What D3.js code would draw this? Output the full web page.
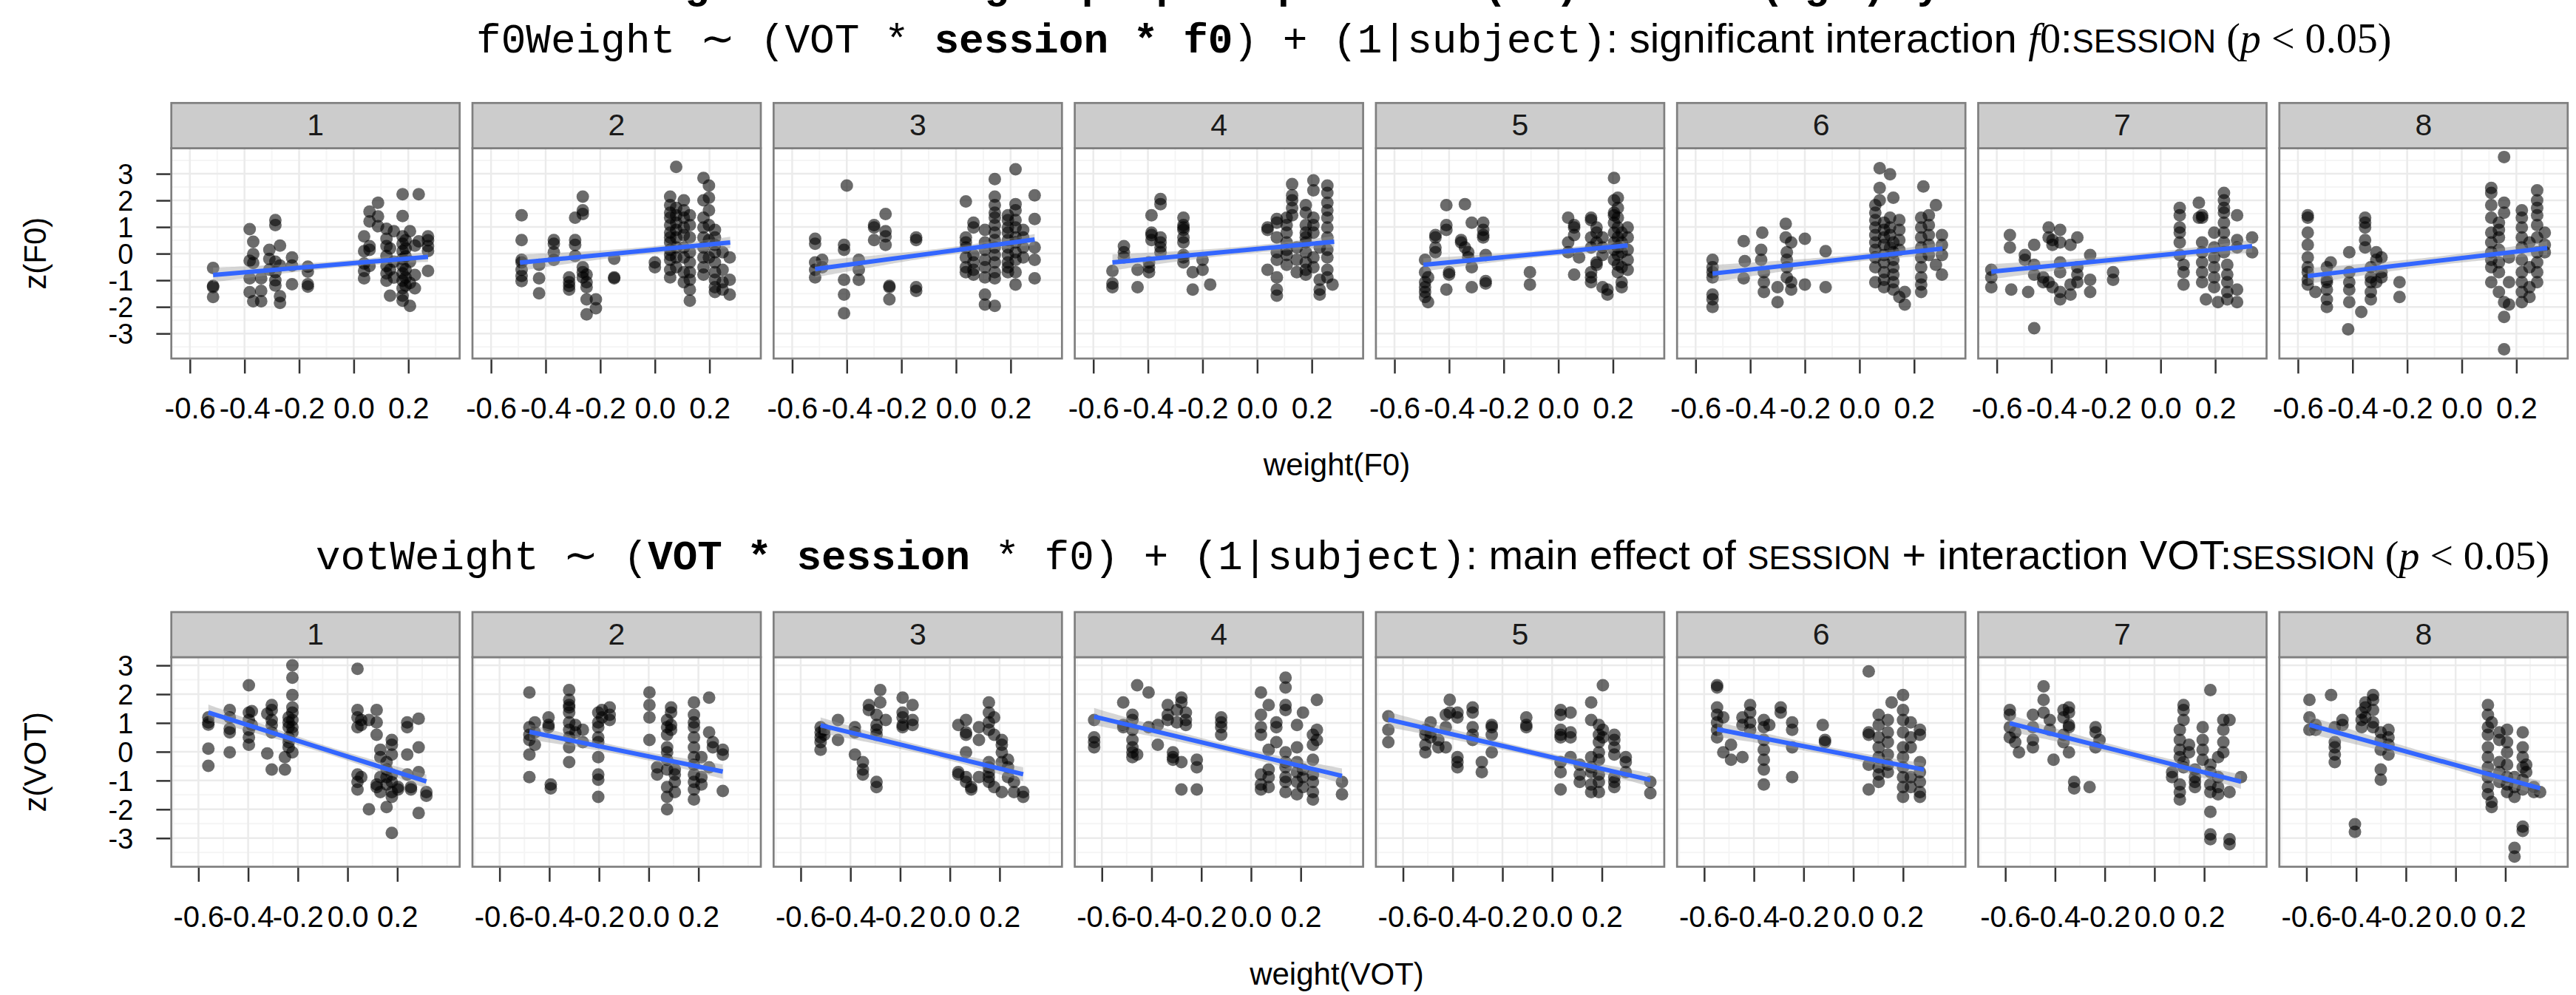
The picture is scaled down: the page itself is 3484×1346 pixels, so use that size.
<!DOCTYPE html>
<html>
<head>
<meta charset="utf-8">
<script src="https://cdn.jsdelivr.net/npm/d3@7"></script>
<style>
  body { margin: 0; background: #fff; }
  svg { display: block; }
</style>
</head>
<body>
<svg id="chart"></svg>
<script>
// facet labels and axis breaks
const sessions = ["1", "2", "3", "4", "5", "6", "7", "8"];
const xTicks = [-0.6, -0.4, -0.2, 0.0, 0.2];
const xTickLabels = ["-0.6", "-0.4", "-0.2", "0.0", "0.2"];
const xMinor = [-0.7, -0.5, -0.3, -0.1, 0.1, 0.3, 0.4];
const yTicks = [-3, -2, -1, 0, 1, 2, 3];
const yTickLabels = ["-3", "-2", "-1", "0", "1", "2", "3"];
const yMinor = [-3.5, -2.5, -1.5, -0.5, 0.5, 1.5, 2.5, 3.5];

// z(F0) against weight(F0), one list per session: [x, [y, y, ...]]
const f0Points = [
  [[-0.515, [-0.54, -1.21, -1.25, -1.63]], [-0.381, [0.92, -0.27, -0.93, -1.45]], [-0.368, [0.45, -0.02, -0.35, -1.79]],
   [-0.339, [-0.93, -1.40, -1.79]], [-0.309, [0.14, -0.2, -0.6]], [-0.287, [1.26, 1.07, -0.3, -0.7, -1.0, -1.2]],
   [-0.27, [0.3, -0.45, -1.6, -1.85]], [-0.226, [-0.14, -0.45, -1.15]], [-0.168, [-0.49, -0.68, -1.15, -1.24]],
   [0.038, [0.65, 0.09, -0.37, -0.65, -0.93]], [0.058, [1.58, 1.21, 0.28, 0.14, -0.46]], [0.089, [1.91, 1.40, 1.03]],
   [0.12, [0.93, 0.56, 0.28, -0.09, -0.46, -0.74, -1.02]], [0.133, [-1.58, 0.2, -0.6]], [0.147, [0.84, -0.3, -0.9]],
   [0.179, [2.23, 1.41, 0.65, 0.37, 0.09, -0.2, -0.46, -0.74, -1.02, -1.3, -1.58, -1.77]],
   [0.19, [0.5, 0.2, -0.1, -0.6, -0.9, -1.2]], [0.206, [0.84, -0.3, -1.1, -1.96]], [0.224, [0.3, -0.8, -1.3]],
   [0.238, [2.23, 0.46]], [0.272, [0.65, 0.5, 0.28, 0.1, -0.65]]],
  [[-0.488, [1.44, 0.51, -0.23, -0.33, -0.61, -0.84, -1.03]], [-0.424, [-0.42, -0.93, -1.49]], [-0.37, [0.51, 0.37, 0.05, -0.23]],
   [-0.314, [-0.89, -1.07, -1.21, -1.35]], [-0.292, [1.35, 0.51, 0.33, -0.09]], [-0.264, [2.14, 1.63, 1.49, -0.51, -0.7, -0.89]],
   [-0.25, [-0.79, -1.07, -1.26, -1.72, -2.28]], [-0.216, [-1.72, -2.05]], [-0.149, [-0.19, -0.89, -0.93]], [0.0, [-0.33, -0.51]],
   [0.056, [2.14, 1.82, 1.54, 1.35, 1.07, 0.79, 0.61, 0.42, 0.14, -0.05, -0.23, -0.61, -0.89]],
   [0.078, [3.26, 1.72, 1.44, 1.16, 0.89, 0.61, 0.23, -0.14, -0.51]], [0.106, [2.0, 1.63, 1.35, 0.98, 0.7, 0.23, -0.14, -0.7, -1.07]],
   [0.128, [1.44, 1.07, 0.61, 0.05, -0.33, -0.7, -0.98, -1.35, -1.77]], [0.178, [2.84, 2.0, 1.35, 0.98, 0.61, 0.23, -0.14, -0.51, -0.79]],
   [0.198, [2.56, 2.1, 1.63, 1.07, 0.51, -0.14]], [0.22, [0.89, 0.61, 0.33, 0.05, -0.33, -0.7, -0.98, -1.26, -1.44]],
   [0.248, [0.05, -0.61, -1.07, -1.35]], [0.274, [-0.14, -0.98, -1.54]]],
  [[-0.516, [0.56, 0.37, -0.33, -0.61, -0.89]], [-0.49, [-0.23, -0.51]], [-0.41, [0.33, 0.14, -0.98, -1.54, -2.24]], [-0.4, [2.56]],
   [-0.356, [-0.23, -0.61, -0.98]], [-0.3, [1.07, 0.98, 0.51]], [-0.258, [1.49, 0.84, 0.65, 0.33]], [-0.244, [-1.21, -1.72, -1.26]],
   [-0.146, [0.61, 0.51, -1.26, -1.4]], [0.036, [1.96, 0.61, 0.42, 0.23, -0.14, -0.51, -0.7]], [0.064, [1.16, 0.98, -0.05, -0.33, -0.61, -0.79]],
   [0.106, [0.89, 0.42, 0.14, -0.23, -0.51, -0.89, -1.54, -1.91]],
   [0.142, [2.8, 2.14, 1.82, 1.54, 1.35, 1.07, 0.79, 0.51, 0.23, -0.05, -0.33, -0.7, -0.93, -1.96]],
   [0.19, [1.44, 1.26, 0.98, 0.79, 0.51, 0.23, -0.05, -0.33, -0.51, -0.7]],
   [0.218, [3.17, 1.86, 1.63, 1.26, 0.98, 0.61, 0.42, 0.05, -0.23, -0.7, -1.16]], [0.246, [0.89, 0.61, 0.23, -0.14]],
   [0.288, [2.19, 1.3, 0.23, -0.23, -0.93]]],
  [[-0.53, [-0.65, -1.12, -1.26]], [-0.488, [0.28, 0.05, -0.14]], [-0.438, [-0.61, -1.26]], [-0.396, [-0.33, -0.51, -0.7]],
   [-0.387, [1.44, 0.79, 0.7, 0.51]], [-0.354, [2.05, 1.86, 0.61, 0.42, 0.23, 0.05]],
   [-0.27, [1.35, 1.07, 0.98, 0.89, 0.61, 0.42, -0.05, -0.14, -0.33]], [-0.236, [-0.7, -1.35]], [-0.2, [-0.23, -0.61]], [-0.172, [-1.16]],
   [0.038, [0.98, 0.89, -0.61]], [0.072, [1.3, 1.16, 0.61, 0.05, -0.23, -0.89, -1.35, -1.58]], [0.108, [1.35, 1.07, 0.79, 0.42, 0.14, -0.05, -0.42]],
   [0.128, [2.61, 2.19, 2.0, 1.72, 1.44]], [0.145, [0.23, -0.23, -0.7]], [0.178, [1.82, 1.54, 1.07, 0.79, 0.61, 0.42, 0.05, -0.33, -0.61, -0.79]],
   [0.206, [2.75, 2.38, 1.35, 1.07, 0.79, -0.14, -0.51]], [0.229, [0.23, -0.98, -1.35, -1.54]],
   [0.257, [2.56, 2.28, 1.91, 1.63, 1.35, 0.98, 0.61, 0.14, -0.14, -0.61, -0.89]], [0.276, [-1.16]]],
  [[-0.488, [-0.23, -0.7, -1.07, -1.26, -1.44, -1.63]], [-0.477, [-1.82, -0.89]], [-0.45, [0.7, 0.61, 0.23, 0.05]], [-0.41, [1.82, 1.07, 0.89, -1.35]],
   [-0.4, [-0.7, -0.79]], [-0.356, [0.51, 0.42]], [-0.342, [1.86, 0.23]], [-0.33, [0.05, -0.14]], [-0.317, [1.16, -0.51, -1.26]],
   [-0.275, [1.16, 0.89, 0.7, 0.61]], [-0.266, [-0.05, -1.03, -1.12]], [-0.104, [-0.7, -1.16]], [0.036, [1.35, 0.42, 0.05]],
   [0.058, [1.07, 0.98, 0.7, -0.79]], [0.076, [-0.14]], [0.12, [1.35, 1.26, 0.61, 0.23, -0.7, -0.89, -1.07]], [0.14, [0.98, 0.79, 0.42, -0.33, -0.42]],
   [0.162, [0.61, 0.23, -0.05, -1.26]], [0.18, [-1.35, -1.54]], [0.204, [2.84, 2.0, 1.54, 1.44, 1.16, 0.79, 0.42, 0.14, -0.23]],
   [0.218, [2.1, 1.72, 1.35, 0.98, 0.61, 0.23, -0.05, -0.42, -0.7]], [0.232, [0.79, 0.42, 0.05, -0.51, -1.07, -1.26]],
   [0.254, [0.98, 0.61, 0.14, -0.23, -0.61]]],
  [[-0.538, [-0.23, -0.51, -0.7, -0.89, -1.54, -1.72, -2.0]], [-0.424, [0.47, -0.93]], [-0.42, [-0.28]], [-0.36, [0.14, -0.23]], [-0.356, [0.79]],
   [-0.35, [-0.7, -1.07, -1.44]], [-0.3, [-1.26, -1.82]], [-0.27, [1.12, 0.61]], [-0.266, [0.05, -0.23, -0.51, -0.89]], [-0.25, [0.42, -1.07, -1.35]],
   [-0.2, [0.56, -1.16]], [-0.124, [0.09, -1.26]], [0.058, [1.82, 1.54, 1.26, 0.98, 0.7, 0.42, 0.14, -0.14, -0.51, -1.07]], [0.074, [3.21, 2.47, 2.0]],
   [0.09, [1.16, 0.89, 0.61, 0.33, -0.05, -0.33, -0.7, -0.98, -1.26]], [0.112, [2.98, 1.35, 0.98, 0.7, 0.23]],
   [0.124, [2.1, 0.42, 0.05, -0.23, -0.51, -0.79, -1.07, -1.35]], [0.146, [1.26, 0.89, 0.51, 0.14, -1.63]], [0.166, [-1.44, -1.91]],
   [0.226, [1.35, 0.98, 0.61, 0.23, -0.14, -0.51, -0.89, -1.16, -1.44]], [0.234, [2.52]], [0.254, [1.44, 1.07, 0.7, 0.33, -0.05]],
   [0.28, [1.82, -0.42]], [0.302, [0.7, 0.33, -0.05, -0.79]]],
  [[-0.62, [-0.61, -0.89, -1.26]], [-0.552, [0.7, 0.23]], [-0.547, [-1.35]], [-0.497, [-0.05, -0.23]], [-0.485, [-1.44]],
   [-0.463, [0.33, -0.42, -0.79, -2.8]], [-0.43, [-0.89, -1.07]], [-0.41, [0.98, 0.61, -1.07]], [-0.396, [0.51, 0.33, -1.26]],
   [-0.368, [0.89, 0.42, -0.33, -0.7, -1.44, -1.72]], [-0.33, [0.33, -1.16, -1.54]], [-0.305, [0.61, -0.51, -0.79, -1.07]],
   [-0.258, [-0.05, -0.98, -1.44]], [-0.174, [-0.7, -0.98]], [0.07, [1.72, 1.44, 0.98, 0.79, 0.42, -0.05]], [0.084, [-0.42, -0.7, -1.16]],
   [0.14, [1.91, 1.35]], [0.152, [1.44, 1.35, 0.42, 0.05, -0.33, -0.7, -1.07]], [0.166, [-1.72]], [0.196, [0.79, 0.23, -0.14, -0.51, -0.89, -1.26]],
   [0.21, [-1.82]], [0.232, [2.28, 2.0, 1.72, 1.54, 1.16, 0.79, 0.42, 0.05]], [0.244, [-0.42, -0.79, -1.07, -1.44, -1.72]],
   [0.28, [1.44, 0.51, 0.23, -1.35, -1.82]], [0.335, [0.61, 0.05]]],
  [[-0.564, [1.44, 1.35, 0.79, 0.33, -0.14, -0.51, -0.7, -0.98, -1.16]], [-0.536, [-1.44]], [-0.494, [-0.51, -0.98, -1.07, -1.35, -1.72, -2.0]],
   [-0.48, [-0.33]], [-0.416, [-2.84]], [-0.412, [0.05, -0.7, -1.07, -1.35, -1.82]], [-0.368, [-2.19]], [-0.354, [1.35, 1.16, 0.98, 0.51, 0.23]],
   [-0.333, [-0.51, -0.89, -1.07, -1.44, -1.72]], [-0.313, [0.05, -0.23, -1.07]], [-0.294, [-0.14, -0.7, -0.89]], [-0.228, [-1.07, -1.63]],
   [0.108, [2.47, 2.28, 1.82, 1.35, 0.79, 0.42, 0.05, -0.23, -0.51, -1.07]], [0.136, [1.16, 0.89, 0.61, 0.14, -0.33, -0.7, -1.44]],
   [0.155, [3.63, 1.91, 1.54, -1.82, -2.38, -3.59]], [0.173, [-0.14, -1.07, -1.91]],
   [0.22, [1.63, 1.35, 0.98, 0.61, 0.23, -0.23, -0.7, -1.07, -1.44, -1.82]], [0.248, [0.42, -0.51, -1.26, -1.63]],
   [0.276, [2.38, 2.0, 1.72, 1.44, 1.07, 0.61, 0.05, -0.33, -0.7, -1.07]], [0.304, [0.79, 0.33, 0.05]]]
];

// z(VOT) against weight(VOT)
const votPoints = [
  [[-0.56, [1.19, 1.02, 0.94, 0.11, -0.49]], [-0.474, [1.45, 1.19, 0.8, 0.67, -0.02]], [-0.397, [2.31, 1.36, 1.1, 0.76, 0.5, 0.24]],
   [-0.385, [1.41, 0.93]], [-0.323, [1.32, -0.06]], [-0.305, [1.62, 1.45, 1.1, 0.93, 0.67, -0.62]], [-0.252, [-0.19, -0.62]],
   [-0.237, [1.19, 1.02, 0.85, 0.5, 0.33, 0.15]], [-0.222, [3.0, 2.57, 1.97, 1.54, 1.36, 1.1, 0.85, 0.67, -0.02]],
   [0.04, [2.88, 1.45, 1.19, 0.85, -0.79, -1.05, -1.31]], [0.055, [0.93, 1.1, -0.88]], [0.086, [1.1, -2.0]], [0.117, [1.45, 1.02, 0.59, -1.14, -1.23]],
   [0.132, [0.07, -0.19, -0.88, -1.4]], [0.157, [-0.36, -0.62, -0.88, -1.14, -1.92]], [0.178, [0.41, 0.24, -0.1, -0.79, -1.05, -1.4, -1.57, -2.82]],
   [0.203, [-1.23, -1.31]], [0.24, [1.02, 0.85, -0.1, -0.79]], [0.255, [-1.23, -1.31]], [0.286, [1.15, 0.15, -0.71, -2.13]], [0.317, [-1.4, -1.53]]],
  [[-0.48, [2.06, 0.85, 0.59, 0.41, -0.1, -0.88]], [-0.458, [1.02, 0.67, 0.24]], [-0.403, [1.19, 0.93, 0.85]], [-0.394, [-1.14, -1.27]],
   [-0.32, [2.14, 1.8, 1.62, 1.54, 1.36, 1.02, 0.76, 0.5, 0.15, -0.36]], [-0.295, [0.93, 0.67]], [-0.265, [0.76, 0.33]],
   [-0.203, [1.36, 1.02, 0.85, 0.5, 0.33, -0.19, -0.79, -0.97, -1.57]], [-0.188, [1.45, 1.19]], [-0.157, [1.54, 1.28, 1.1]],
   [0.003, [2.06, 1.62, 1.19, 0.41]], [0.034, [-0.54, -0.79]], [0.074, [1.1, 0.85, 0.59, 0.15, -0.02, -0.28, -0.62, -1.23, -1.57, -2.0]],
   [0.09, [1.54, 1.36, 0.93, 0.76]], [0.105, [-0.62, -0.79, -1.05, -1.4]],
   [0.182, [1.71, 1.28, 1.02, 0.85, 0.5, 0.15, -0.19, -0.45, -0.79, -1.05, -1.31, -1.66]], [0.212, [-0.19, -0.88, -1.14]],
   [0.243, [1.88, 0.67, -0.54]], [0.258, [0.33, 0.15]], [0.298, [0.07, -0.1, -1.36]]],
  [[-0.52, [0.85, 0.67, 0.5, 0.33, 0.07]], [-0.505, [0.76, 0.59]], [-0.45, [1.1, 0.41]], [-0.382, [0.85, 0.67, -0.1]], [-0.35, [-0.36, -0.62, -0.79]],
   [-0.326, [1.62, 1.45]], [-0.295, [1.28, 0.93, 0.76, 0.59, -1.05, -1.23]], [-0.28, [2.14, 1.71]], [-0.258, [1.1]], [-0.19, [1.88, 1.36, 1.19, 0.93, 0.85]],
   [-0.15, [1.62, 1.1, 0.93]], [0.034, [0.93, -0.71, -0.79]], [0.065, [1.1, 0.67, 0.59, -0.02, -0.88, -1.05]], [0.086, [-1.23, -1.31]],
   [0.117, [0.85, 0.41, -0.88]], [0.157, [1.71, 1.36, 1.02, 0.76, -0.36, -0.54, -0.71, -0.88, -1.05]], [0.178, [1.19, 0.59, -1.23]],
   [0.209, [0.41, 0.24, -0.02, -0.36, -1.4]], [0.234, [-0.28, -0.54, -0.88]], [0.258, [-1.05, -1.4]], [0.295, [-1.4, -1.57]]],
  [[-0.631, [1.1, 0.5, 0.33, 0.15]], [-0.514, [1.71, 0.93, 0.85]], [-0.477, [1.28, 1.1, 0.76, 0.41, 0.15, -0.02, -0.19]], [-0.458, [2.31, -0.1]],
   [-0.412, [2.06, 0.85]], [-0.375, [0.93, 0.24]], [-0.335, [1.62, 1.28, 1.1]], [-0.314, [-0.02, -0.19, -0.28]], [-0.298, [1.45, 1.02]],
   [-0.28, [1.88, 1.71, -0.36, -1.31]], [-0.262, [1.36, 1.1, 0.93]], [-0.218, [-0.28, -0.54, -1.31]], [-0.12, [1.19, 1.02, 0.85, 0.59]],
   [0.04, [2.06, 1.28, 0.85, 0.59, -0.79, -1.14, -1.31]], [0.071, [1.62, 0.07, -0.62, -0.88, -1.23]], [0.102, [1.02, 0.85, 0.33]],
   [0.139, [2.57, 2.23, 1.62, 1.45, -0.02, -0.36, -0.54, -0.88, -1.05, -1.4]], [0.185, [0.93, 0.15, -0.36, -0.71, -1.05, -1.48]],
   [0.209, [1.36, -0.62, -0.88, -1.23]], [0.249, [0.59, 0.24, -0.28, -0.79, -1.05, -1.4, -1.66]], [0.265, [1.8, 0.76, 0.41]], [0.366, [-1.05, -1.48]]],
  [[-0.659, [1.23, 0.76, 0.33]], [-0.51, [0.76, 0.59, 0.24, -0.02]], [-0.489, [1.02, 0.67, 0.5]], [-0.458, [0.41, 0.15]], [-0.428, [1.28, 0.85, 0.15]],
   [-0.412, [1.8, 1.36]], [-0.381, [1.36, 1.19, -0.19, -0.36, -0.54]], [-0.32, [1.54, 1.36, 0.85, 0.59, 0.41]], [-0.283, [-0.36, -0.71]],
   [-0.243, [0.93, 0.85, 0.59, -0.02]], [-0.104, [1.19, 0.93, 0.85]], [0.034, [1.45, 1.28, 0.76, 0.59, 0.5, -0.36, -0.71, -1.31]],
   [0.074, [1.36, 0.67, 0.5, -0.19]], [0.111, [-0.45, -0.79, -1.05]], [0.157, [1.71, 1.1, -0.19, -0.54, -0.71, -1.14, -1.4]],
   [0.188, [0.93, 0.59, 0.33, -0.02, -0.28, -0.79, -1.05, -1.4]], [0.204, [2.31, 0.76, 0.5]], [0.25, [0.59, 0.41, 0.15, -0.1, -0.88, -1.05, -1.23]],
   [0.296, [-0.19, -0.36, -0.71]], [0.395, [-1.05, -1.44]]],
  [[-0.548, [2.31, 2.23, 1.54, 1.28, 1.02, 0.76, 0.5]], [-0.523, [1.19, -0.02]], [-0.492, [0.24, -0.28]], [-0.446, [1.19, 0.93, -0.19]],
   [-0.415, [1.62, 1.36, 1.02, 0.76]], [-0.36, [1.1, 0.85, 0.41, 0.07, -0.28, -0.62, -1.14]], [-0.338, [0.93]], [-0.292, [1.54, 1.36]],
   [-0.246, [1.02, 0.76, 0.15, -0.88]], [-0.123, [0.93]], [-0.114, [0.41, 0.33]], [0.062, [2.79, 0.67, 0.59, -0.45, -1.31]],
   [0.102, [1.28, 0.93, 0.5, 0.15, -0.19, -0.54, -0.79, -1.05]], [0.139, [1.1, 0.67, 0.33, -0.1, -0.45, -0.71]], [0.154, [1.71]],
   [0.2, [1.97, 1.45, 1.1, 0.67, 0.15, -0.19, -0.54, -0.88, -1.23, -1.57]], [0.231, [1.02, 0.5, 0.15, -0.88, -1.23]],
   [0.268, [0.76, 0.59, -0.36, -0.71, -1.05, -1.4, -1.57]]],
  [[-0.582, [1.45, 1.28, 0.85, 0.5]], [-0.56, [0.67, 0.33]], [-0.545, [-0.02]], [-0.489, [1.28, 0.85, 0.41, 0.15]], [-0.446, [2.27, 1.8, 1.36]],
   [-0.421, [1.1, 0.76]], [-0.406, [-0.28]], [-0.366, [1.45, 1.19, 0.59, 0.33]], [-0.344, [1.54, 1.36, 0.93, 0.85, -0.02]], [-0.323, [-1.05, -1.27]],
   [-0.261, [-1.23]], [-0.237, [0.85, 0.67, 0.15]], [-0.221, [0.41]], [0.071, [-0.71, -0.88]], [0.102, [0.76, 0.41, 0.07, -0.19, -1.14, -1.4, -1.66]],
   [0.117, [1.62, 1.45, 1.1, -0.36, -0.54]], [0.139, [0.24, -0.02]], [0.163, [-0.62, -0.88, -1.05, -1.23]], [0.194, [0.85, 0.41, 0.07, -0.28]],
   [0.225, [2.14, -0.45, -0.71, -1.14, -1.4, -2.09, -2.87, -3.04]], [0.256, [-0.19, -0.88, -1.23, -1.48]], [0.277, [1.1, 0.76, 0.33, -0.02]],
   [0.302, [1.1, -1.4, -3.04, -3.21]], [0.348, [-0.88]]],
  [[-0.588, [1.8, 1.19, 0.76]], [-0.563, [0.93, 0.76]], [-0.501, [1.97]], [-0.486, [0.85, 0.33, 0.15, -0.1, -0.36]], [-0.455, [1.1, 0.93]],
   [-0.405, [-2.52, -2.78]], [-0.378, [1.36, 1.1, 0.85]], [-0.363, [1.71, 1.54, 1.19]], [-0.332, [1.97, 1.8, 1.45, 1.02, 0.85]],
   [-0.301, [0.67, 0.41, 0.07, -0.62, -0.97]], [-0.27, [0.76, 0.5, 0.24, -0.1]],
   [0.13, [1.62, 1.28, 0.85, 0.59, 0.15, -0.19, -0.54, -0.88, -1.23, -1.48]], [0.145, [1.02, -1.74, -1.92]], [0.176, [0.67, 0.41, -0.36, -0.71, -1.05]],
   [0.207, [0.76, 0.33, -0.02, -0.45, -0.88, -1.14, -1.4]], [0.237, [-0.88, -1.23, -1.57, -3.34, -3.64]],
   [0.27, [0.67, 0.15, -0.19, -0.54, -0.97, -1.31, -2.6, -2.75]], [0.284, [-0.45, -0.71]], [0.315, [-1.23, -1.4]], [0.34, [-1.4]]]
];

// fitted lm lines: [xStart, yStart, xEnd, yEnd]
const f0Fits = [
  [-0.515, -0.80, 0.272, -0.12], [-0.494, -0.34, 0.276, 0.42], [-0.516, -0.58, 0.288, 0.53], [-0.53, -0.33, 0.282, 0.45],
  [-0.494, -0.42, 0.254, 0.31], [-0.538, -0.75, 0.304, 0.19], [-0.62, -0.68, 0.335, 0.28], [-0.564, -0.84, 0.313, 0.21]
];
const votFits = [
  [-0.56, 1.36, 0.317, -1.03], [-0.48, 0.69, 0.298, -0.69], [-0.52, 0.92, 0.295, -0.78], [-0.631, 1.22, 0.366, -0.84],
  [-0.659, 1.12, 0.395, -0.98], [-0.548, 0.78, 0.284, -0.62], [-0.582, 0.99, 0.348, -1.04], [-0.588, 0.93, 0.34, -1.27]
];

// each drawn dot hides roughly this many overplotted trials (tightens the lm band)
const overplot = 2.5;

const W = 3484, H = 1346;
const sans = "'Liberation Sans', Arial, Helvetica, sans-serif";
const mono = "'Liberation Mono', 'Courier New', monospace";
const serif = "'Liberation Serif', 'Times New Roman', serif";

const svg = d3.select("#chart").attr("width", W).attr("height", H)
  .style("font-family", sans);

const panelW = 390, panelGap = 17.3, panelLeft = 231.7;
const border = "#7f7f7f";

const rows = [
  { pts: f0Points, fits: f0Fits, xDom: [-0.668, 0.388], yDom: [-3.94, 3.96],
    stripTop: 139.3, top: 200.5, bottom: 485, stripText: 183, tickText: 566,
    xTitle: "weight(F0)", xTitleY: 643, yTitle: "z(F0)" },
  { pts: votPoints, fits: votFits, xDom: [-0.709, 0.451], yDom: [-3.995, 3.285],
    stripTop: 828, top: 889, bottom: 1172.5, stripText: 871.5, tickText: 1254,
    xTitle: "weight(VOT)", xTitleY: 1332, yTitle: "z(VOT)" }
];

// lm band: standard error around the fitted line
function smoothBand(cols, fit) {
  const pts = cols.flatMap(([x, ys]) => ys.map(y => [x, y]));
  const n = pts.length * overplot;
  const b = (fit[3] - fit[1]) / (fit[2] - fit[0]);
  const a = fit[1] - b * fit[0];
  const xm = d3.mean(pts, p => p[0]);
  const sxx = d3.sum(pts, p => (p[0] - xm) ** 2) * overplot;
  const s = Math.sqrt(d3.sum(pts, p => (p[1] - a - b * p[0]) ** 2) / (pts.length - 2));
  const t = 1.97;
  return d3.range(0, 81).map(k => {
    const x = fit[0] + (fit[2] - fit[0]) * k / 80;
    const se = s * Math.sqrt(1 / n + (x - xm) ** 2 / sxx);
    return { x, lo: a + b * x - t * se, hi: a + b * x + t * se };
  });
}

rows.forEach((row, r) => {
  const y = d3.scaleLinear().domain(row.yDom).range([row.bottom, row.top]);

  sessions.forEach((s, i) => {
    const x0 = panelLeft + i * (panelW + panelGap);
    const x = d3.scaleLinear().domain(row.xDom).range([x0, x0 + panelW]);
    const g = svg.append("g");
    const clipId = `clip-${r}-${i}`;
    g.append("clipPath").attr("id", clipId).append("rect")
      .attr("x", x0).attr("y", row.top).attr("width", panelW).attr("height", row.bottom - row.top);

    g.append("rect").attr("x", x0).attr("y", row.top)
      .attr("width", panelW).attr("height", row.bottom - row.top).attr("fill", "#fff");

    const grid = g.append("g").attr("clip-path", `url(#${clipId})`);
    const inX = v => v > row.xDom[0] && v < row.xDom[1];
    grid.selectAll(".xmin").data(xMinor.filter(inX)).join("line")
      .attr("x1", d => x(d)).attr("x2", d => x(d)).attr("y1", row.top).attr("y2", row.bottom)
      .attr("stroke", "#f5f5f5").attr("stroke-width", 2);
    grid.selectAll(".ymin").data(yMinor).join("line")
      .attr("x1", x0).attr("x2", x0 + panelW).attr("y1", d => y(d)).attr("y2", d => y(d))
      .attr("stroke", "#f5f5f5").attr("stroke-width", 2);
    grid.selectAll(".xmaj").data(xTicks).join("line")
      .attr("x1", d => x(d)).attr("x2", d => x(d)).attr("y1", row.top).attr("y2", row.bottom)
      .attr("stroke", "#ebebeb").attr("stroke-width", 2.5);
    grid.selectAll(".ymaj").data(yTicks).join("line")
      .attr("x1", x0).attr("x2", x0 + panelW).attr("y1", d => y(d)).attr("y2", d => y(d))
      .attr("stroke", "#ebebeb").attr("stroke-width", 2.5);

    const plot = g.append("g").attr("clip-path", `url(#${clipId})`);
    const pts = row.pts[i].flatMap(([px, ys]) => ys.map(py => [px, py]));
    plot.selectAll("circle").data(pts).join("circle")
      .attr("cx", d => x(d[0])).attr("cy", d => y(d[1])).attr("r", 8.5)
      .attr("fill", "#000").attr("fill-opacity", 0.58);

    const fit = row.fits[i];
    const band = smoothBand(row.pts[i], fit);
    plot.append("path").datum(band)
      .attr("d", d3.area().x(d => x(d.x)).y0(d => y(d.lo)).y1(d => y(d.hi)))
      .attr("fill", "#999999").attr("fill-opacity", 0.4);
    plot.append("line")
      .attr("x1", x(fit[0])).attr("y1", y(fit[1])).attr("x2", x(fit[2])).attr("y2", y(fit[3]))
      .attr("stroke", "#3366FF").attr("stroke-width", 6);

    g.append("rect").attr("x", x0).attr("y", row.top)
      .attr("width", panelW).attr("height", row.bottom - row.top)
      .attr("fill", "none").attr("stroke", border).attr("stroke-width", 2.7);

    // strip
    g.append("rect").attr("x", x0).attr("y", row.stripTop)
      .attr("width", panelW).attr("height", row.top - row.stripTop)
      .attr("fill", "#cccccc").attr("stroke", border).attr("stroke-width", 2.7);
    g.append("text").attr("x", x0 + panelW / 2).attr("y", row.stripText)
      .attr("text-anchor", "middle").attr("font-size", 41).attr("fill", "#1a1a1a").text(s);

    // x axis
    const ax = g.append("g").attr("transform", `translate(0,${row.bottom + 1.3})`)
      .call(d3.axisBottom(x).tickValues(xTicks).tickFormat((d, k) => xTickLabels[k]).tickSize(19).tickPadding(0));
    ax.select(".domain").remove();
    ax.selectAll(".tick line").attr("stroke", "#333").attr("stroke-width", 2.5);
    ax.selectAll(".tick text").attr("y", row.tickText - row.bottom - 1.3).attr("dy", null)
      .attr("font-size", 40).attr("font-family", sans).attr("fill", "#000");

    if (i === 0) {
      const ay = g.append("g").attr("transform", `translate(${x0 - 1.3},0)`)
        .call(d3.axisLeft(y).tickValues(yTicks).tickFormat((d, k) => yTickLabels[k]).tickSize(19).tickPadding(31));
      ay.select(".domain").remove();
      ay.selectAll(".tick line").attr("stroke", "#333").attr("stroke-width", 2.5);
      ay.selectAll(".tick text").attr("font-size", 38).attr("font-family", sans).attr("fill", "#000")
        .attr("dy", "0.36em");
    }
  });

  svg.append("text").attr("x", 1808).attr("y", row.xTitleY)
    .attr("text-anchor", "middle").attr("font-size", 42).attr("fill", "#000").text(row.xTitle);
  svg.append("text")
    .attr("transform", `translate(62,${(row.top + row.bottom) / 2}) rotate(-90)`)
    .attr("text-anchor", "middle").attr("font-size", 42).attr("fill", "#000").text(row.yTitle);
});

// rich-text titles: [text, font, weight, style, relative size]
function richTitle(parts, xStart, xEnd, baseline, size) {
  const t = svg.append("text").attr("x", xStart).attr("y", baseline)
    .attr("font-size", size).attr("fill", "#000").attr("xml:space", "preserve");
  parts.forEach(([txt, fam, wt, st, rel]) => {
    t.append("tspan").attr("font-family", fam).attr("font-weight", wt || "normal")
      .attr("font-style", st || "normal").attr("font-size", `${rel || 1}em`).text(txt);
  });
  const w = t.node().getComputedTextLength();
  t.attr("font-size", size * (xEnd - xStart) / w);
  return t;
}

richTitle([
  ["Figure 3: Cue weights per participant for f0 (left) and VOT (right) by session", sans, "bold"]
], 878, 2844, -3, 44);

richTitle([
  ["f0Weight ", mono], ["\u223C", serif], [" (VOT * ", mono], ["session * f0", mono, "bold"], [") + (1|subject)", mono],
  [": significant interaction ", sans], ["f", serif, null, "italic"], ["0", serif], [":", sans], ["SESSION", sans, null, null, 0.78],
  [" (", serif], ["p", serif, null, "italic"], [" < 0.05)", serif]
], 644, 3235, 71, 44);

richTitle([
  ["votWeight ", mono], ["\u223C", serif], [" (", mono], ["VOT * session", mono, "bold"], [" * f0) + (1|subject)", mono],
  [": main effect of ", sans], ["SESSION", sans, null, null, 0.78], [" + interaction VOT:", sans], ["SESSION", sans, null, null, 0.78],
  [" (", serif], ["p", serif, null, "italic"], [" < 0.05)", serif]
], 427, 3449, 770, 44);
</script>
</body>
</html>
